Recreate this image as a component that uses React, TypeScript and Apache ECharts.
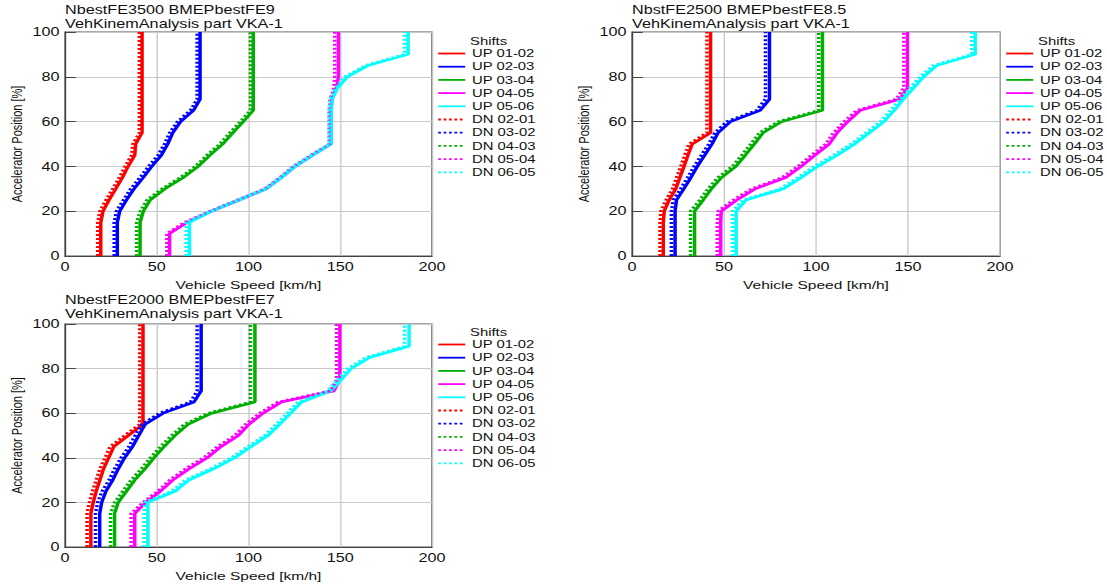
import React, { useEffect, useRef } from "react";
import * as echarts from "echarts";

// ---------- data ----------
const PEDAL = [0, 10, 15, 20, 25, 30, 35, 40, 45, 50, 55, 60, 65, 70, 75, 80, 85, 90, 100];
const SHIFT_NAMES = ["UP 01-02", "UP 02-03", "UP 03-04", "UP 04-05", "UP 05-06", "DN 02-01", "DN 03-02", "DN 04-03", "DN 05-04", "DN 06-05"];
const SHIFT_COLORS = ["#FF0000", "#0000FF", "#00B000", "#FF00FF", "#00FFFF", "#FF0000", "#0000FF", "#00B000", "#FF00FF", "#00FFFF"];
const TITLES = [
  "NbestFE3500 BMEPbestFE9\nVehKinemAnalysis part VKA-1",
  "NbstFE2500 BMEPbestFE8.5\nVehKinemAnalysis part VKA-1",
  "NbestFE2000 BMEPbestFE7\nVehKinemAnalysis part VKA-1",
];
const LEGEND_TITLE = "Shifts";
const X_NAME = "Vehicle Speed [km/h]";
const Y_NAME = "Accelerator Position [%]";
const X_TICKS = [0, 50, 100, 150, 200];
const Y_TICKS = [0, 20, 40, 60, 80, 100];

// Panel A: NbestFE3500 (vehicle speed per PEDAL point)
const A_UP12 = [19.5, 19.5, 19.5, 20.7, 24, 27.7, 31.3, 34.4, 38, 38.5, 42, 42, 42, 42, 42, 42, 42, 42, 42];
const A_UP23 = [28.5, 28.5, 28.5, 29.8, 33.5, 37.6, 42.6, 47.3, 52.5, 56, 58.7, 63, 70, 73.6, 73.6, 73.6, 73.6, 73.6, 73.6];
const A_UP34 = [40.9, 40.9, 40.9, 42.7, 46.4, 54.5, 64.5, 72.6, 79, 86, 91.5, 97.2, 102.6, 102.6, 102.6, 102.6, 102.6, 102.6, 102.6];
const A_UP45 = [57, 57, 66.5, 80, 95, 109.7, 118, 125.5, 135, 145, 145, 145, 145, 145.5, 148, 149, 149, 149, 149];
const A_UP56 = [67.8, 67.8, 67.8, 80, 95, 109.7, 118, 125.5, 135, 145, 145, 145, 145, 145.5, 148.5, 154, 165, 187, 187];
const A_DN21 = [17.8, 17.8, 17.8, 19, 22.3, 26, 29.6, 32.7, 36.3, 37, 40.5, 40.5, 40.5, 40.5, 40.5, 40.5, 40.5, 40.5, 40.5];
const A_DN32 = [26.8, 26.8, 26.8, 28, 31.8, 35.8, 40.8, 45.5, 50.7, 54.2, 57, 61.3, 68.3, 72, 72, 72, 72, 72, 72];
const A_DN43 = [39, 39, 39, 41, 44.7, 52.8, 62.8, 71, 77.3, 84.3, 89.8, 95.5, 101, 101, 101, 101, 101, 101, 101];
const A_DN54 = [55.5, 55.5, 65, 79, 94, 108.7, 117, 124.5, 134, 144, 144, 144, 144, 144.5, 146.5, 147, 147, 147, 147];
const A_DN65 = [66, 66, 66, 79, 94, 108.7, 117, 124.5, 134, 144, 144, 144, 144, 144.5, 147.5, 152.5, 163.5, 185, 185];

// Panel B: NbstFE2500
const B_UP12 = [17, 17, 17, 17.5, 20.2, 23.8, 26, 28.3, 30.4, 32.8, 42.7, 42.7, 42.7, 42.7, 42.7, 42.7, 42.7, 42.7, 42.7];
const B_UP23 = [23.4, 23.4, 23.4, 23.4, 24.2, 28.2, 32, 35.5, 39.5, 43.5, 46.8, 53.5, 69.7, 74.7, 74.7, 74.7, 74.7, 74.7, 74.7];
const B_UP34 = [34, 34, 34, 34, 38.7, 43.2, 48.6, 56.5, 61.6, 66.5, 71.2, 81.5, 103.5, 103.5, 103.5, 103.5, 103.5, 103.5, 103.5];
const B_UP45 = [48.2, 48.2, 48.2, 48.5, 57, 67, 83.5, 92, 99.5, 107.2, 111.5, 117.3, 124, 145.5, 149.7, 149.7, 149.7, 149.7, 149.7];
const B_UP56 = [56.6, 56.6, 56.6, 56.6, 62, 82.5, 92, 101, 111.5, 121, 129, 137, 142.5, 147.5, 153, 158.5, 165.5, 186.5, 186.5];
const B_DN21 = [15.2, 15.2, 15.2, 15.7, 18.5, 22, 24.2, 26.5, 28.6, 31, 40.7, 40.7, 40.7, 40.7, 40.7, 40.7, 40.7, 40.7, 40.7];
const B_DN32 = [21.4, 21.4, 21.4, 21.4, 22.4, 26.4, 30.2, 33.7, 37.7, 41.7, 45, 51.5, 67.7, 72.5, 72.5, 72.5, 72.5, 72.5, 72.5];
const B_DN43 = [31.8, 31.8, 31.8, 31.8, 36.8, 41.3, 46.6, 54.5, 59.6, 64.5, 69.2, 79.5, 101.5, 101.5, 101.5, 101.5, 101.5, 101.5, 101.5];
const B_DN54 = [46.3, 46.3, 46.3, 46.8, 55, 65, 81.5, 90, 97.5, 105.2, 109.5, 115.3, 122, 143.5, 147.7, 147.7, 147.7, 147.7, 147.7];
const B_DN65 = [54.6, 54.6, 54.6, 54.6, 60, 80.5, 90, 99, 109.5, 119, 127, 135, 140.5, 145.5, 151, 156.5, 163.5, 184.6, 184.6];

// Panel C: NbestFE2000
const C_UP12 = [14.1, 14.1, 14.1, 15.4, 17, 19, 21, 23.8, 26.6, 34.5, 42.5, 42.5, 42.5, 42.5, 42.5, 42.5, 42.5, 42.5, 42.5];
const C_UP23 = [18.9, 18.9, 18.9, 20, 22.3, 26, 29, 32.5, 36.8, 40.2, 43.7, 53.5, 70.3, 74.2, 74.2, 74.2, 74.2, 74.2, 74.2];
const C_UP34 = [27, 27, 27, 29, 33.5, 38, 43.5, 48.5, 54, 60, 67, 80, 103.5, 103.5, 103.5, 103.5, 103.5, 103.5, 103.5];
const C_UP45 = [38, 38, 38, 44, 52, 58.7, 67.5, 77.5, 85, 94.5, 100.3, 108, 118, 146.5, 149.8, 149.8, 149.8, 149.8, 149.8];
const C_UP56 = [45.2, 45.2, 45.2, 45.2, 60, 67.5, 81, 92.5, 101.5, 110.7, 117, 123, 129, 145, 150.5, 156, 166, 187.5, 187.5];
const C_DN21 = [12, 12, 12, 13.3, 15, 17, 19, 21.8, 24.6, 32.5, 40.7, 40.7, 40.7, 40.7, 40.7, 40.7, 40.7, 40.7, 40.7];
const C_DN32 = [16.6, 16.6, 16.6, 17.8, 20.2, 24, 27, 30.5, 34.8, 38.2, 41.8, 51.5, 68.3, 72, 72, 72, 72, 72, 72];
const C_DN43 = [24.8, 24.8, 24.8, 27, 31.5, 36, 41.5, 46.5, 52, 58, 65, 78, 101, 101, 101, 101, 101, 101, 101];
const C_DN54 = [36, 36, 36, 42.5, 50.5, 57, 65.5, 75.5, 83, 92.5, 98.3, 106, 116, 144.5, 148, 148, 148, 148, 148];
const C_DN65 = [43, 43, 43, 43.5, 58, 65.5, 79, 90.5, 99.5, 108.7, 115, 121, 127, 143, 148.5, 154, 164, 185, 185];

const PANEL_SPEEDS = [
  [A_UP12, A_UP23, A_UP34, A_UP45, A_UP56, A_DN21, A_DN32, A_DN43, A_DN54, A_DN65],
  [B_UP12, B_UP23, B_UP34, B_UP45, B_UP56, B_DN21, B_DN32, B_DN43, B_DN54, B_DN65],
  [C_UP12, C_UP23, C_UP34, C_UP45, C_UP56, C_DN21, C_DN32, C_DN43, C_DN54, C_DN65],
];

// ---------- layout (the source image is horizontally stretched) ----------
const SX = 1.35;
const W = 820;
const H = 586;
const FONT = "'Liberation Sans', Arial, Helvetica, sans-serif";
const u = (px: number) => px / SX;

const GRIDS = [
  { left: 65, top: 32, width: 367, height: 224 },
  { left: 632, top: 32, width: 368, height: 224 },
  { left: 65, top: 324, width: 367, height: 223 },
];
const LEGENDS = [
  { left: 437, top: 48, titleTop: 36 },
  { left: 1005, top: 48, titleTop: 36 },
  { left: 437, top: 339, titleTop: 327 },
];
const TITLE_POS = [
  { left: 65, top: 3 },
  { left: 632, top: 3 },
  { left: 65, top: 293 },
];

function buildOption() {
  const grid: any[] = [];
  const xAxis: any[] = [];
  const yAxis: any[] = [];
  const series: any[] = [];
  const title: any[] = [];
  const legend: any[] = [];

  GRIDS.forEach((g, p) => {
    grid.push({
      left: u(g.left),
      top: g.top,
      width: u(g.width),
      height: g.height,
      show: true,
      borderColor: "#555",
      borderWidth: 1,
      backgroundColor: "#fff",
    });
    xAxis.push({
      type: "value",
      gridIndex: p,
      min: X_TICKS[0],
      max: X_TICKS[X_TICKS.length - 1],
      interval: X_TICKS[1] - X_TICKS[0],
      name: X_NAME,
      nameLocation: "middle",
      nameGap: 23,
      nameTextStyle: { fontSize: 11.5, color: "#111", fontFamily: FONT },
      axisLine: { show: true, lineStyle: { color: "#444", width: 1 } },
      axisTick: { show: false },
      axisLabel: { fontSize: 12, color: "#111", fontFamily: FONT, margin: 5 },
      splitLine: { show: true, lineStyle: { color: "#C8C8C8", width: 1 } },
    });
    yAxis.push({
      type: "value",
      gridIndex: p,
      min: Y_TICKS[0],
      max: Y_TICKS[Y_TICKS.length - 1],
      interval: Y_TICKS[1] - Y_TICKS[0],
      name: Y_NAME,
      nameLocation: "middle",
      nameGap: 30,
      nameTextStyle: { fontSize: 11, color: "#111", fontFamily: FONT },
      axisLine: { show: true, lineStyle: { color: "#444", width: 1 } },
      axisTick: { show: true, inside: true, length: 8, lineStyle: { color: "#444" } },
      axisLabel: { fontSize: 12, color: "#111", fontFamily: FONT, margin: 4 },
      splitLine: { show: true, lineStyle: { color: "#C8C8C8", width: 1 } },
    });
    title.push({
      text: TITLES[p],
      left: u(TITLE_POS[p].left),
      top: TITLE_POS[p].top,
      padding: 0,
      textStyle: { fontSize: 12, fontWeight: "normal", color: "#111", fontFamily: FONT, lineHeight: 14 },
    });
    title.push({
      text: LEGEND_TITLE,
      left: u(LEGENDS[p].left + 33),
      top: LEGENDS[p].titleTop,
      padding: 0,
      textStyle: { fontSize: 11, fontWeight: "normal", color: "#111", fontFamily: FONT },
    });
    legend.push({
      data: SHIFT_NAMES,
      orient: "vertical",
      left: u(LEGENDS[p].left),
      top: LEGENDS[p].top,
      padding: 0,
      itemWidth: 20,
      itemHeight: 12,
      itemGap: 2.2,
      selectedMode: false,
      itemStyle: { opacity: 0 },
      lineStyle: { width: 1.8 },
      textStyle: { fontSize: 11, color: "#111", fontFamily: FONT },
    });

    PANEL_SPEEDS[p].forEach((speeds, i) => {
      const isDown = i >= 5;
      series.push({
        type: "line",
        name: SHIFT_NAMES[i],
        xAxisIndex: p,
        yAxisIndex: p,
        data: PEDAL.map((a, k) => [speeds[k], a]),
        symbol: "none",
        silent: true,
        z: isDown ? 3 : 2,
        itemStyle: { color: SHIFT_COLORS[i] },
        lineStyle: {
          color: SHIFT_COLORS[i],
          width: 2.6,
          type: isDown ? [2, 2] : "solid",
        },
      });
    });
  });

  return {
    animation: false,
    backgroundColor: "#fff",
    textStyle: { fontFamily: FONT },
    title,
    legend,
    grid,
    xAxis,
    yAxis,
    series,
  };
}

export default function App() {
  const ref = useRef<HTMLDivElement>(null);
  useEffect(() => {
    if (!ref.current) return;
    const chart = echarts.init(ref.current, null, { renderer: "svg" });
    chart.setOption(buildOption() as any);
    return () => chart.dispose();
  }, []);
  return (
    <div
      ref={ref}
      style={{
        position: "fixed",
        left: 0,
        top: 0,
        width: W,
        height: H,
        transform: `scaleX(${SX})`,
        transformOrigin: "0 0",
        background: "#fff",
      }}
    />
  );
}
